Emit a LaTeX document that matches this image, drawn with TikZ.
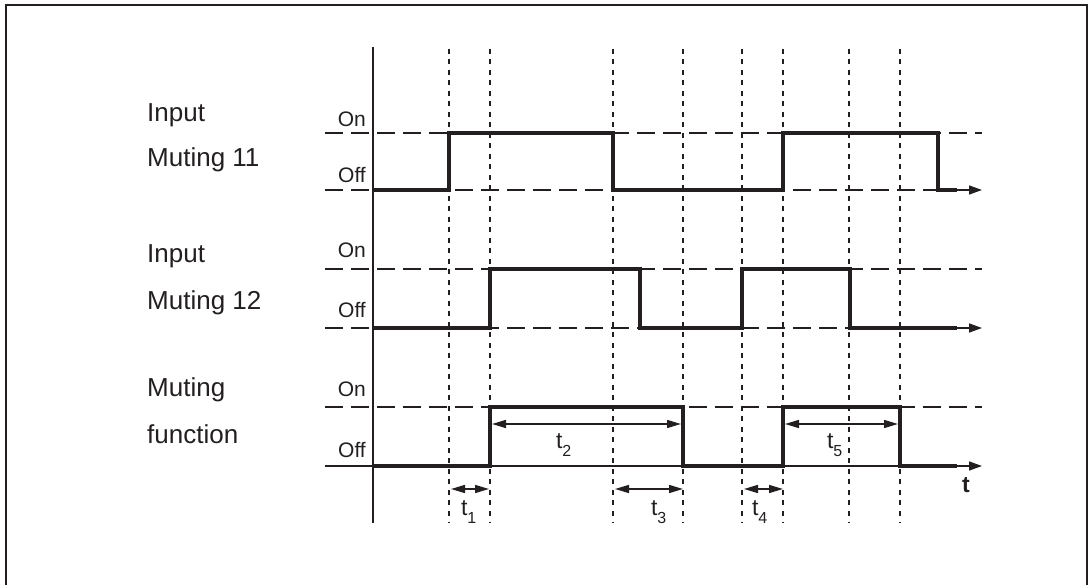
\documentclass[tikz,border=0pt]{standalone}
\usepackage{fontspec}
\setmainfont{Liberation Sans}
\usetikzlibrary{arrows.meta}
\definecolor{ink}{RGB}{35,31,32}
\newcommand{\tsub}[1]{t\kern-0.3pt\raisebox{-8pt}{\fontsize{16}{16}\selectfont #1}}
\begin{document}
\begin{tikzpicture}[x=1pt,y=-1pt,
  frame/.style={line width=1.5pt,ink},
  axis/.style={line width=2.8pt,ink},
  sig/.style={line width=4.5pt,ink,line join=miter},
  level/.style={line width=1.5pt,ink,dash pattern=on 18pt off 8pt},
  guide/.style={line width=1.2pt,ink,dash pattern=on 5pt off 5.5pt},
  tarrow/.style={line width=1.5pt,ink,-{Triangle[length=13pt,width=9pt]}},
  dim/.style={line width=1.5pt,ink,{Triangle[length=14pt,width=8pt]}-{Triangle[length=14pt,width=8pt]}},
  biglab/.style={font=\fontsize{26}{26}\selectfont,anchor=base west,inner sep=0pt,text=ink},
  lvl/.style={font=\fontsize{21}{21}\selectfont,anchor=base east,inner sep=0pt,text=ink},
  tlab/.style={font=\fontsize{23}{23}\selectfont,anchor=base west,inner sep=0pt,text=ink},
]
\useasboundingbox (0,0) rectangle (1088,585);
\draw[frame] (6,600) -- (6,5) -- (1087,5) -- (1087,600);

% guide lines
\foreach \x in {449,490,613,683,742,783,849,900}
  \draw[guide] (\x,49) -- (\x,523);

% level lines
\draw[level] (325,133) -- (982,133);
\draw[level] (325,190) -- (957,190);
\draw[tarrow] (957,190) -- (982,190);
\draw[level] (325,269) -- (982,269);
\draw[level] (325,328) -- (957,328);
\draw[tarrow] (957,328) -- (982,328);
\draw[level] (325,407) -- (982,407);
\draw[tarrow] (325,466) -- (982,466);

% signals
\draw[sig] (373,190) -- (449,190) -- (449,133) -- (613,133) -- (613,190) -- (783,190) -- (783,133) -- (938,133) -- (938,190) -- (957,190);
\draw[sig] (373,328) -- (490,328) -- (490,269) -- (640,269) -- (640,328) -- (742,328) -- (742,269) -- (850,269) -- (850,328) -- (957,328);
\draw[sig] (373,466) -- (490,466) -- (490,407) -- (683,407) -- (683,466) -- (783,466) -- (783,407) -- (900,407) -- (900,466) -- (957,466);

% axis
\draw[axis] (373,47) -- (373,523);

% dimension arrows
\draw[dim] (492,424) -- (681,424);
\draw[dim] (785,424) -- (898,424);
\draw[dim] (451,489) -- (489,489);
\draw[dim] (615,489) -- (683,489);
\draw[dim] (744,489) -- (783,489);

% labels
\node[biglab] (in11a) at (147,122) {Input};
\node[biglab] (in11b) at (147,167) {Muting 11};
\node[biglab] (in12a) at (147,263) {Input};
\node[biglab] (in12b) at (147,310) {Muting 12};
\node[biglab] (mfa) at (147,397) {Muting};
\node[biglab] (mfb) at (147,444) {function};

\node[lvl] (on1) at (366,127) {On};
\node[lvl] (off1) at (366,183) {Off};
\node[lvl] (on2) at (366,258) {On};
\node[lvl] (off2) at (366,318) {Off};
\node[lvl] (on3) at (366,397) {On};
\node[lvl] (off3) at (366,457) {Off};

\node[tlab] (lt1) at (461,515) {\tsub{1}};
\node[tlab] (lt2) at (556,449) {\tsub{2}};
\node[tlab] (lt3) at (651,515) {\tsub{3}};
\node[tlab] (lt4) at (752,515) {\tsub{4}};
\node[tlab] (lt5) at (827,449) {\tsub{5}};
\node[font=\fontsize{23}{23}\selectfont\bfseries,anchor=base,inner sep=0pt,text=ink] (tt) at (966,493) {t};
\end{tikzpicture}
\end{document}
